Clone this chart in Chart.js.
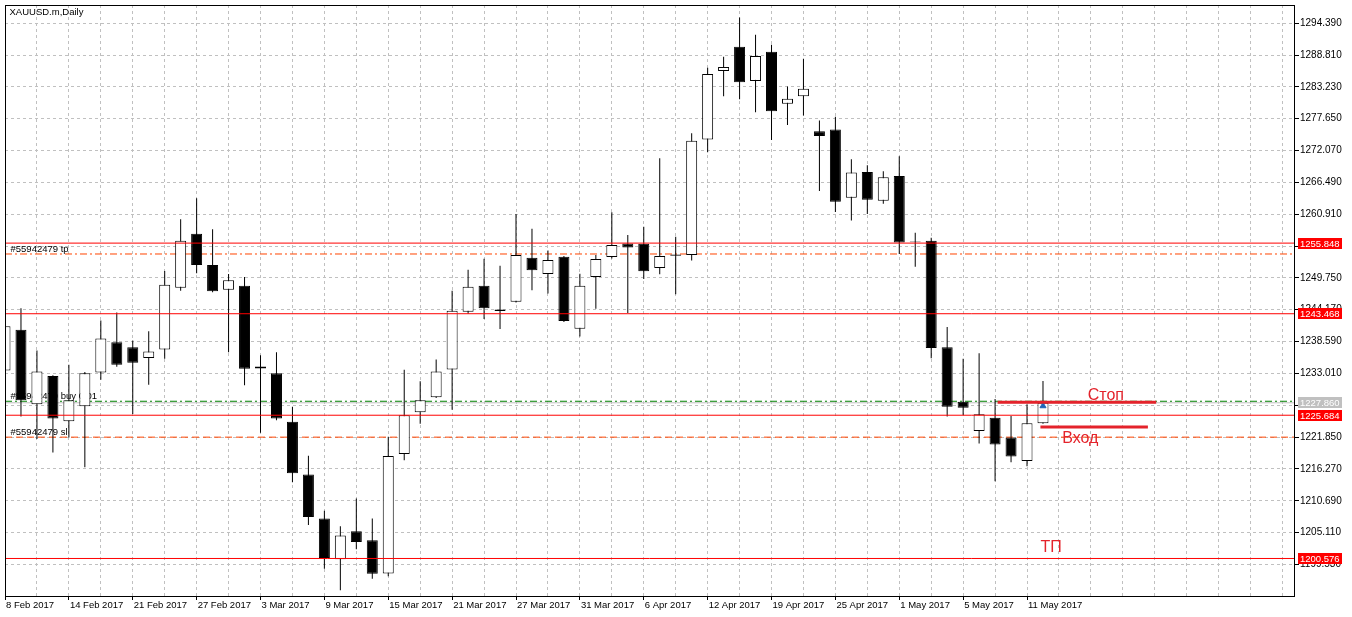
<!DOCTYPE html>
<html>
<head>
<meta charset="utf-8">
<title>XAUUSD.m,Daily</title>
<script src="https://cdn.jsdelivr.net/npm/chart.js@4.4.1/dist/chart.umd.min.js"></script>
<style>
    html, body { margin: 0; padding: 0; background: #fff; }
    #chart-wrap { width: 1352px; height: 617px; }
</style>
</head>
<body>
<div id="chart-wrap"><canvas id="chart-xau" width="1352" height="617"></canvas></div>
<script>
/**
 * XAUUSD.m Daily — candles + order levels
 */

// trading days, one per candle
const dates = [
    '8 Feb 2017', '9 Feb 2017', '10 Feb 2017', '13 Feb 2017', '14 Feb 2017', '15 Feb 2017', '16 Feb 2017', '17 Feb 2017',
    '21 Feb 2017', '22 Feb 2017', '23 Feb 2017', '24 Feb 2017', '27 Feb 2017', '28 Feb 2017', '1 Mar 2017', '2 Mar 2017',
    '3 Mar 2017', '6 Mar 2017', '7 Mar 2017', '8 Mar 2017', '9 Mar 2017', '10 Mar 2017', '13 Mar 2017', '14 Mar 2017',
    '15 Mar 2017', '16 Mar 2017', '17 Mar 2017', '20 Mar 2017', '21 Mar 2017', '22 Mar 2017', '23 Mar 2017', '24 Mar 2017',
    '27 Mar 2017', '28 Mar 2017', '29 Mar 2017', '30 Mar 2017', '31 Mar 2017', '3 Apr 2017', '4 Apr 2017', '5 Apr 2017',
    '6 Apr 2017', '7 Apr 2017', '10 Apr 2017', '11 Apr 2017', '12 Apr 2017', '13 Apr 2017', '17 Apr 2017', '18 Apr 2017',
    '19 Apr 2017', '20 Apr 2017', '21 Apr 2017', '24 Apr 2017', '25 Apr 2017', '26 Apr 2017', '27 Apr 2017', '28 Apr 2017',
    '1 May 2017', '2 May 2017', '3 May 2017', '4 May 2017', '5 May 2017', '8 May 2017', '9 May 2017', '10 May 2017',
    '11 May 2017', '12 May 2017'
];

const opens = [
    1233.53, 1240.68, 1227.60, 1232.54, 1224.64, 1227.26, 1233.18, 1238.47, 1237.60, 1235.73,
    1237.20, 1248.01, 1257.47, 1252.02, 1247.66, 1248.36, 1233.88, 1233.06, 1224.52, 1215.28,
    1207.60, 1200.45, 1205.34, 1203.77, 1197.96, 1218.89, 1226.21, 1228.83, 1233.71, 1243.82,
    1248.36, 1244.22, 1245.57, 1253.29, 1250.45, 1253.46, 1240.86, 1249.92, 1253.41, 1255.78,
    1255.73, 1251.49, 1253.85, 1253.76, 1273.99, 1286.02, 1290.26, 1284.28, 1289.39, 1280.27,
    1281.59, 1275.44, 1275.78, 1263.80, 1268.29, 1263.28, 1267.59, 1256.15, 1256.25, 1237.60,
    1228.06, 1222.90, 1225.22, 1221.78, 1217.67, 1224.29
];
const highs = [
    1243.00, 1244.45, 1237.02, 1232.71, 1234.51, 1233.24, 1242.30, 1243.70, 1238.76, 1240.39,
    1250.97, 1260.04, 1263.70, 1258.29, 1250.45, 1249.92, 1236.20, 1236.72, 1227.19, 1218.59,
    1208.95, 1206.21, 1211.09, 1207.60, 1221.90, 1233.64, 1231.62, 1235.45, 1247.48, 1251.20,
    1253.12, 1251.89, 1260.96, 1258.35, 1254.56, 1253.59, 1250.50, 1253.76, 1261.26, 1257.25,
    1258.70, 1270.73, 1256.95, 1275.09, 1286.60, 1288.51, 1295.37, 1292.35, 1290.61, 1283.28,
    1288.16, 1277.35, 1278.00, 1270.55, 1269.51, 1268.46, 1271.08, 1257.65, 1256.78, 1241.14,
    1235.56, 1236.55, 1228.53, 1225.56, 1227.60, 1231.67
];
const lows = [
    1232.50, 1225.44, 1221.50, 1219.16, 1221.78, 1216.55, 1231.89, 1234.16, 1225.91, 1231.02,
    1235.56, 1247.48, 1250.55, 1247.24, 1236.72, 1230.92, 1222.60, 1224.81, 1213.93, 1206.44,
    1198.76, 1195.00, 1202.20, 1197.02, 1197.44, 1217.77, 1224.17, 1228.71, 1226.66, 1243.47,
    1242.53, 1240.79, 1245.45, 1247.59, 1247.01, 1242.01, 1239.46, 1244.34, 1253.17, 1243.58,
    1249.58, 1250.38, 1246.89, 1252.82, 1271.77, 1281.59, 1281.07, 1278.80, 1273.92, 1276.53,
    1278.23, 1264.97, 1261.31, 1259.79, 1260.96, 1262.76, 1253.94, 1251.72, 1235.68, 1225.44,
    1225.74, 1220.73, 1214.11, 1217.42, 1216.72, 1224.20
];
const closes = [
    1241.26, 1228.30, 1233.36, 1225.09, 1228.30, 1233.06, 1239.11, 1234.51, 1234.86, 1236.85,
    1248.53, 1256.25, 1252.02, 1247.41, 1249.33, 1233.81, 1234.23, 1225.09, 1215.50, 1207.83,
    1200.68, 1204.59, 1203.47, 1197.89, 1218.54, 1225.69, 1228.30, 1233.36, 1244.00, 1248.18,
    1244.45, 1243.93, 1253.76, 1251.08, 1252.89, 1242.18, 1248.36, 1253.06, 1255.50, 1255.09,
    1250.90, 1253.59, 1253.65, 1273.81, 1285.50, 1286.72, 1284.03, 1288.64, 1278.98, 1281.14,
    1282.88, 1274.62, 1263.11, 1268.23, 1263.46, 1267.41, 1255.96, 1256.00, 1237.47, 1227.19,
    1227.01, 1225.86, 1220.56, 1218.47, 1224.29, 1227.86
];

// price scale ticks
const yTickValues = [
    1199.53, 1205.11, 1210.69, 1216.27, 1221.85, 1227.43, 1233.01, 1238.59, 1244.17,
    1249.75, 1255.33, 1260.91, 1266.49, 1272.07, 1277.65, 1283.23, 1288.81, 1294.39
];

// horizontal levels
const redLevels = [1255.848, 1243.468, 1225.684, 1200.576];
const bidPrice = 1227.86;
const orderOpen = 1228.13;
const orderTp = 1253.94;
const orderSl = 1221.84;
const orderLabels = ['#55942479 tp', '#55942479 buy 0.01', '#55942479 sl'];

// hand drawn marks (bar index / price)
const stopLineX = [62.16, 72.09];
const stopLineY = 1227.95;
const entryLineX = [64.84, 71.57];
const entryLineY = 1223.64;
const noteTexts = ['Стоп', 'Вход', 'ТП'];
const noteX = [67.8, 66.2, 64.84];
const noteY = [1228.35, 1220.86, 1201.73];
const arrowX = 65;
const arrowY = 1227.3;

const X_MIN = 0;
const X_MAX = 80.71875;
const FONT = "'Liberation Sans', Arial, sans-serif";
const MARK_RED = '#e4232b';

// full width horizontal line as a line dataset
function levelLine(value, color, dash, order) {
    return {
        type: 'line',
        data: [{ x: X_MIN, y: value }, { x: X_MAX, y: value }],
        borderColor: color,
        borderWidth: 1,
        borderDash: dash,
        pointRadius: 0,
        order: order
    };
}

function segment(xs, value, color, width) {
    return {
        type: 'line',
        data: [{ x: xs[0], y: value }, { x: xs[1], y: value }],
        borderColor: color,
        borderWidth: width,
        pointRadius: 0,
        order: 0
    };
}

const levelsPlugin = {
    id: 'levels',
    beforeDatasetsDraw(chart) {
        const { ctx, chartArea: a, scales: { y } } = chart;
        ctx.save();
        ctx.font = '9.5px ' + FONT;
        ctx.fillStyle = '#000';
        ctx.textAlign = 'left';
        ctx.textBaseline = 'alphabetic';
        ctx.fillText(orderLabels[0], a.left + 5.5, y.getPixelForValue(orderTp) - 2);
        ctx.fillText(orderLabels[1], a.left + 5.5, y.getPixelForValue(orderOpen) - 2);
        ctx.fillText(orderLabels[2], a.left + 5.5, y.getPixelForValue(orderSl) - 2);
        ctx.restore();
    },
    afterDatasetsDraw(chart) {
        const { ctx, chartArea: a, scales: { x, y } } = chart;
        ctx.save();

        // notes
        ctx.font = '16px ' + FONT;
        ctx.fillStyle = MARK_RED;
        ctx.textAlign = 'left';
        ctx.textBaseline = 'alphabetic';
        noteTexts.forEach((t, i) => {
            ctx.fillText(t, x.getPixelForValue(noteX[i]), y.getPixelForValue(noteY[i]));
        });

        // frame + title
        ctx.strokeStyle = '#000';
        ctx.lineWidth = 1;
        ctx.strokeRect(Math.floor(a.left) + 0.5, Math.floor(a.top) + 0.5,
            Math.round(a.right - a.left), Math.round(a.bottom - a.top));
        ctx.font = '9.5px ' + FONT;
        ctx.fillStyle = '#000';
        ctx.textBaseline = 'middle';
        ctx.fillText('XAUUSD.m,Daily', a.left + 4.5, a.top + 7);
        ctx.restore();
    },
    afterDraw(chart) {
        const { ctx, chartArea: a, scales: { y } } = chart;
        const boxes = redLevels.map(v => ({ v, color: '#ff0000' }));
        boxes.push({ v: bidPrice, color: '#c0c0c0' });

        ctx.save();
        ctx.font = '9.5px ' + FONT;
        ctx.textAlign = 'left';
        ctx.textBaseline = 'middle';
        boxes.forEach(b => {
            const py = Math.floor(y.getPixelForValue(b.v)) + 0.5;
            ctx.fillStyle = b.color;
            ctx.fillRect(a.right + 4, py - 5.5, 44, 11);
            ctx.fillStyle = '#fff';
            ctx.fillText(b.v.toFixed(3), a.right + 6, py + 0.5);
        });
        ctx.restore();
    }
};

function initChart() {
    const idx = dates.map((d, i) => i);

    const bodies = idx.map(i => ({ x: i, y: [opens[i], closes[i]] }));
    const wicks = idx.map(i => ({ x: i, y: [lows[i], highs[i]] }));
    const bodyColors = idx.map(i => closes[i] >= opens[i] ? '#ffffff' : '#000000');

    const ctx = document.getElementById('chart-xau').getContext('2d');

    Chart.defaults.font.family = FONT;
    Chart.defaults.font.size = 9.5;
    Chart.defaults.color = '#000';

    const datasets = [
        // on top of candles
        ...redLevels.map(v => levelLine(v, '#ff0000', [], 0)),
        segment(stopLineX, stopLineY, MARK_RED, 3),
        segment(entryLineX, entryLineY, MARK_RED, 3),
        {
            type: 'line',
            data: [{ x: arrowX, y: arrowY }],
            showLine: false,
            pointStyle: 'triangle',
            pointRadius: 3.5,
            pointBackgroundColor: '#1f66b8',
            pointBorderColor: '#1f66b8',
            pointBorderWidth: 1,
            order: 0
        },
        {
            label: 'body',
            data: bodies,
            backgroundColor: bodyColors,
            borderColor: '#000',
            borderWidth: 1,
            borderSkipped: false,
            barThickness: 11,
            inflateAmount: 0,
            grouped: false,
            order: 1
        },
        {
            label: 'wick',
            data: wicks,
            backgroundColor: '#000',
            borderWidth: 0,
            barThickness: 1,
            inflateAmount: 0,
            grouped: false,
            order: 2
        },
        // order lines behind the candles
        levelLine(bidPrice, '#c0c0c0', [], 3),
        levelLine(orderOpen, '#008000', [7, 3, 2, 3], 3),
        levelLine(orderTp, '#ff4500', [7, 3, 2, 3], 3),
        levelLine(orderSl, '#ff4500', [7, 4], 3)
    ];

    new Chart(ctx, {
        type: 'bar',
        data: { datasets },
        options: {
            responsive: false,
            animation: false,
            events: [],
            devicePixelRatio: 1,
            layout: { padding: { left: 2.5, top: 2, right: 0, bottom: 0 } },
            plugins: {
                legend: { display: false },
                tooltip: { enabled: false }
            },
            scales: {
                x: {
                    type: 'linear',
                    min: X_MIN,
                    max: X_MAX,
                    offset: false,
                    grid: {
                        offset: false,
                        color: '#c0c0c0',
                        lineWidth: 1,
                        tickLength: 4,
                        tickColor: (c) => (c.tick && c.tick.value % 4 === 0 && dates[c.tick.value]) ? '#000' : 'rgba(0,0,0,0)'
                    },
                    border: { display: false, dash: [3, 3] },
                    afterBuildTicks: (axis) => {
                        const t = [];
                        for (let v = 0; v <= 80; v += 2) t.push({ value: v });
                        axis.ticks = t;
                    },
                    afterFit: (axis) => {
                        axis.height = 21;
                        axis.paddingLeft = 0;
                        axis.paddingRight = 0;
                    },
                    ticks: {
                        autoSkip: false,
                        maxRotation: 0,
                        minRotation: 0,
                        align: 'start',
                        labelOffset: 1,
                        padding: 0,
                        color: '#000',
                        callback: (v) => (v % 4 === 0 && dates[v]) ? dates[v] : ''
                    }
                },
                y: {
                    type: 'linear',
                    position: 'right',
                    min: 1194.0,
                    max: 1297.58,
                    beginAtZero: false,
                    grid: {
                        color: '#c0c0c0',
                        lineWidth: 1,
                        tickLength: 5,
                        tickColor: '#000'
                    },
                    border: { display: false, dash: [3, 3] },
                    afterBuildTicks: (axis) => {
                        axis.ticks = yTickValues.map(v => ({ value: v }));
                    },
                    afterFit: (axis) => {
                        axis.width = 58;
                        axis.paddingTop = 0;
                        axis.paddingBottom = 0;
                    },
                    ticks: {
                        padding: 1,
                        color: '#000',
                        font: { size: 10 },
                        callback: (v) => Number(v).toFixed(3)
                    }
                }
            }
        },
        plugins: [levelsPlugin]
    });
}

initChart();
</script>
</body>
</html>
